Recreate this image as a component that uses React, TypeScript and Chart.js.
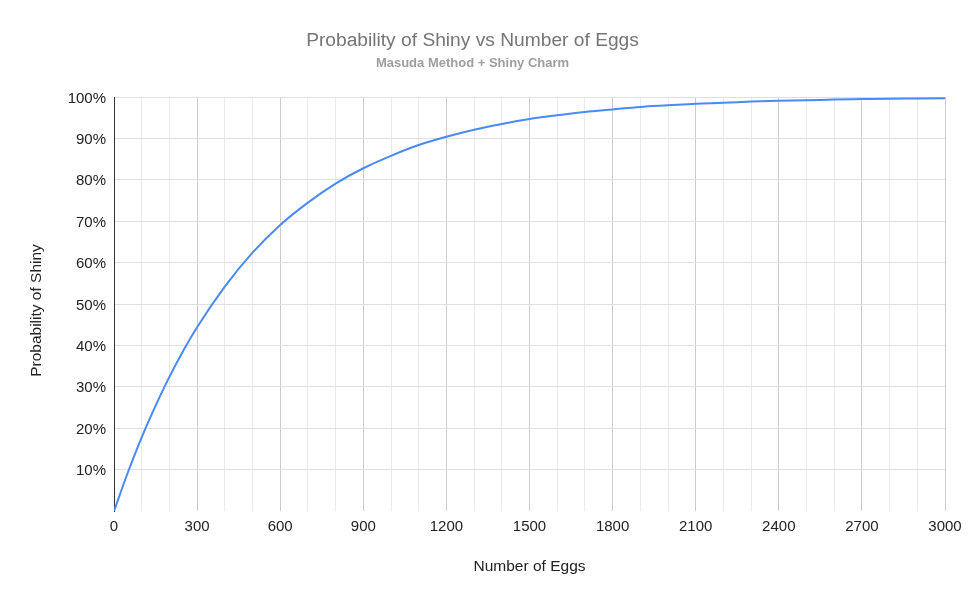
import React, { useEffect, useRef } from "react";
import { Chart, registerables } from "chart.js";

Chart.register(...registerables);

const eggs = [0, 50, 100, 150, 200, 250, 300, 400, 500, 600, 700, 800, 900, 1000, 1100, 1200, 1300, 1400, 1500, 1600, 1700, 1800, 1900, 2000, 2100, 2200, 2300, 2400, 2500, 2600, 2700, 2800, 2900, 3000];
const probability = [0, 9.3, 17.8, 25.4, 32.4, 38.7, 44.4, 54.2, 62.4, 69.1, 74.5, 79.1, 82.8, 85.8, 88.4, 90.4, 92.1, 93.5, 94.7, 95.6, 96.4, 97.0, 97.6, 98.0, 98.4, 98.6, 98.9, 99.1, 99.2, 99.4, 99.5, 99.6, 99.65, 99.7];
const titleText = "Probability of Shiny vs Number of Eggs";
const subtitleText = "Masuda Method + Shiny Charm";
const xTitle = "Number of Eggs";
const yTitle = "Probability of Shiny   ";

const FONT = "'Liberation Sans', Arial, sans-serif";

export default function App() {
  const ref = useRef<HTMLCanvasElement | null>(null);
  useEffect(() => {
    if (!ref.current) return;
    const chart = new Chart(ref.current, {
      type: "line",
      data: {
        datasets: [
          {
            data: eggs.map((x, i) => ({ x, y: probability[i] })),
            borderColor: "#4a8af4",
            borderWidth: 2,
            pointRadius: 0,
            fill: false,
            cubicInterpolationMode: "monotone",
          },
        ],
      },
      options: {
        animation: false,
        responsive: false,
        maintainAspectRatio: false,
        layout: { padding: { left: 0, right: 29, top: 0, bottom: 0 } },
        plugins: {
          legend: { display: false },
          tooltip: { enabled: false },
          title: {
            display: true,
            text: titleText,
            color: "#757575",
            font: { family: FONT, size: 19.2, weight: "normal" },
            padding: { top: 29.5, bottom: 0 },
          },
          subtitle: {
            display: true,
            text: subtitleText,
            color: "#9e9e9e",
            font: { family: FONT, size: 13, weight: "bold" },
            padding: { top: 3.0, bottom: 25.9 },
          },
        },
        scales: {
          x: {
            type: "linear",
            min: 0,
            max: 3000,
            ticks: {
              stepSize: 100,
              autoSkip: false,
              maxRotation: 0,
              color: "#222222",
              font: { family: FONT, size: 15 },
              padding: 7,
              callback: (v: any) => (Number(v) % 300 === 0 ? String(v) : ""),
            },
            grid: {
              drawTicks: false,
              color: (ctx: any) => {
                const v = ctx.tick ? ctx.tick.value : 0;
                if (v === 0) return "rgba(0,0,0,0)";
                return v % 300 === 0 ? "#cccccc" : "#ebebeb";
              },
              lineWidth: 1,
            },
            border: { display: false },
            title: {
              display: true,
              text: xTitle,
              color: "#222222",
              font: { family: FONT, size: 15.5 },
              padding: { top: 21.7, bottom: 13.7 },
            },
            afterFit: (s: any) => {
              s.height = 79;
            },
          },
          y: {
            min: 0,
            max: 100,
            ticks: {
              stepSize: 10,
              color: "#222222",
              font: { family: FONT, size: 15 },
              padding: 8,
              labelOffset: 1.5,
              callback: (v: any) => (Number(v) === 0 ? "" : v + "%"),
            },
            grid: {
              drawTicks: false,
              color: (ctx: any) => {
                const v = ctx.tick ? ctx.tick.value : 0;
                return v === 0 ? "rgba(0,0,0,0)" : "#e0e0e0";
              },
            },
            border: { display: true, color: "#333333", width: 1 },
            title: {
              display: true,
              text: yTitle,
              color: "#222222",
              font: { family: FONT, size: 15.5 },
              padding: { top: 27, bottom: 0 },
            },
            afterFit: (s: any) => {
              s.width = 114;
            },
          },
        },
      },
    });
    return () => chart.destroy();
  }, []);
  return (
    <div style={{ position: "absolute", left: 0, top: 0, width: 974, height: 590, background: "#fff" }}>
      <canvas ref={ref} width={974} height={590} style={{ width: 974, height: 590 }} />
    </div>
  );
}
